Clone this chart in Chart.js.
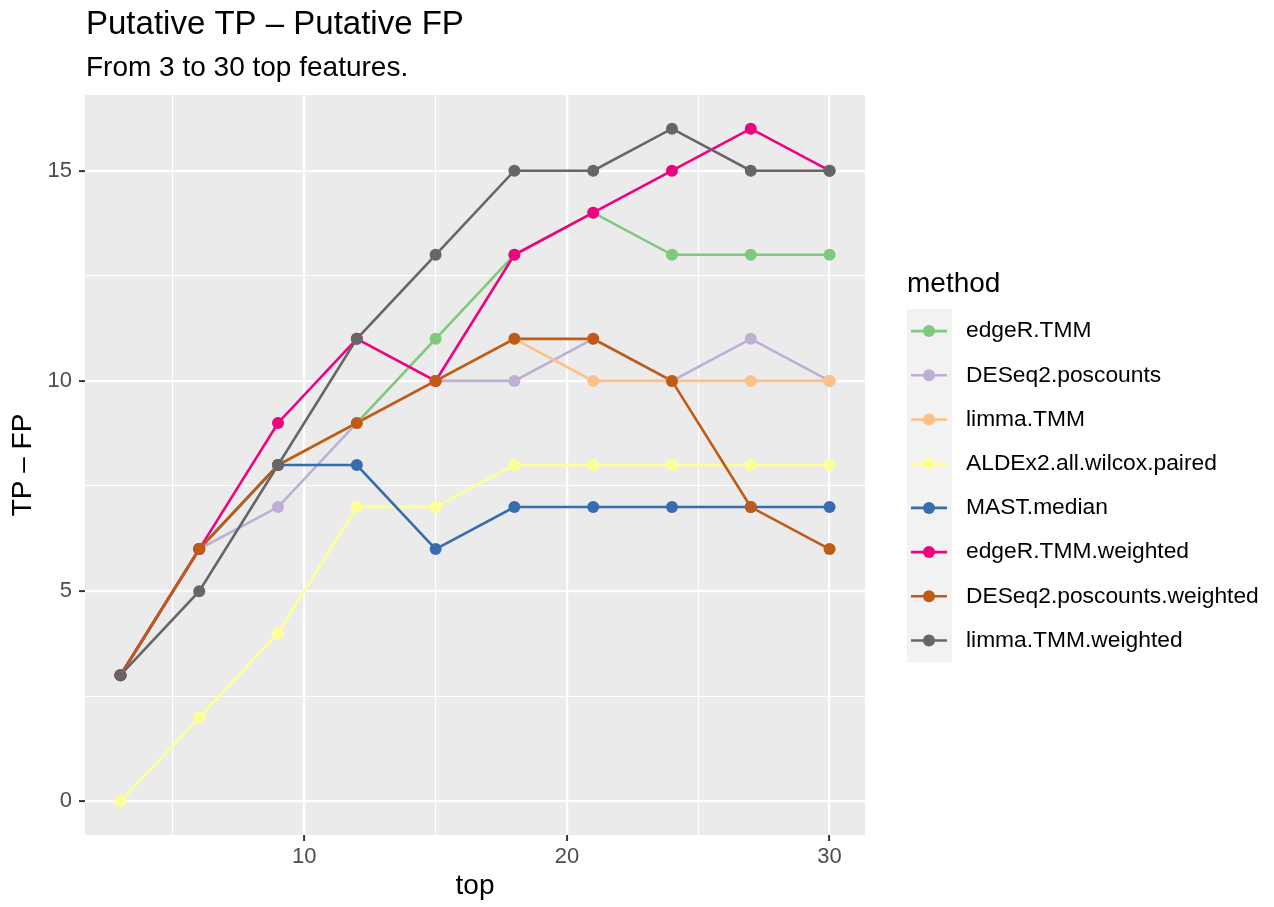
<!DOCTYPE html>
<html>
<head>
<meta charset="utf-8">
<script src="https://cdn.jsdelivr.net/npm/chart.js@4/dist/chart.umd.min.js"></script>
<style>
  html, body { margin: 0; padding: 0; background: #ffffff; }
  #wrap { width: 1274px; height: 907px; }
</style>
</head>
<body>
<div id="wrap"><canvas id="c" width="1274" height="907"></canvas></div>
<script>
// Number of top-ranked features considered
const topValues = [3, 6, 9, 12, 15, 18, 21, 24, 27, 30];

// Putative TP minus putative FP for each method
const edgeRTMM              = [3, 6, 8, 9, 11, 13, 14, 13, 13, 13];
const deseq2Poscounts       = [3, 6, 7, 9, 10, 10, 11, 10, 11, 10];
const limmaTMM              = [3, 6, 8, 9, 10, 11, 10, 10, 10, 10];
const aldex2WilcoxPaired    = [0, 2, 4, 7, 7, 8, 8, 8, 8, 8];
const mastMedian            = [3, 6, 8, 8, 6, 7, 7, 7, 7, 7];
const edgeRTMMWeighted      = [3, 6, 9, 11, 10, 13, 14, 15, 16, 15];
const deseq2PoscountsWeighted = [3, 6, 8, 9, 10, 11, 11, 10, 7, 6];
const limmaTMMWeighted      = [3, 5, 8, 11, 13, 15, 15, 16, 15, 15];

const methodNames = [
  'edgeR.TMM', 'DESeq2.poscounts', 'limma.TMM', 'ALDEx2.all.wilcox.paired',
  'MAST.median', 'edgeR.TMM.weighted', 'DESeq2.poscounts.weighted', 'limma.TMM.weighted'
];
const methodValues = [
  edgeRTMM, deseq2Poscounts, limmaTMM, aldex2WilcoxPaired,
  mastMedian, edgeRTMMWeighted, deseq2PoscountsWeighted, limmaTMMWeighted
];
const methodColors = [
  '#7FC97F', '#BEAED4', '#FDC086', '#FFFF99',
  '#386CB0', '#F0027F', '#BF5B17', '#666666'
];

// Axis tick positions (major ones are labelled, minor ones only get a grid line)
const xTicks = [5, 10, 15, 20, 25, 30];
const xTickLabels = ['', '10', '', '20', '', '30'];
const yTicks = [0, 2.5, 5, 7.5, 10, 12.5, 15];
const yTickLabels = ['0', '', '5', '', '10', '', '15'];

const FONT = '"Liberation Sans", Arial, Helvetica, sans-serif';
const LINE_W = 2.6;
const POINT_R = 6;

// Lines first (all series), then points on top, later series above earlier ones
const n = methodNames.length;
const datasets = [];
methodNames.forEach((name, i) => {
  datasets.push({
    label: name,
    data: topValues.map((t, k) => ({ x: t, y: methodValues[i][k] })),
    borderColor: methodColors[i],
    backgroundColor: methodColors[i],
    borderWidth: LINE_W,
    pointRadius: 0,
    pointHoverRadius: 0,
    tension: 0,
    fill: false,
    order: 100 + (n - i)
  });
});
methodNames.forEach((name, i) => {
  datasets.push({
    label: name + ' points',
    data: topValues.map((t, k) => ({ x: t, y: methodValues[i][k] })),
    borderColor: methodColors[i],
    backgroundColor: methodColors[i],
    showLine: false,
    pointRadius: POINT_R,
    pointBorderWidth: 0,
    pointHoverRadius: POINT_R,
    order: (n - i)
  });
});

const PANEL = { left: 85, top: 95, right: 865, bottom: 835 };

const decorations = {
  id: 'decorations',
  beforeDraw(chart) {
    const { ctx, chartArea } = chart;
    ctx.save();
    ctx.fillStyle = '#EBEBEB';
    ctx.fillRect(chartArea.left, chartArea.top, chartArea.right - chartArea.left, chartArea.bottom - chartArea.top);
    ctx.restore();
  },
  afterDraw(chart) {
    const { ctx, chartArea } = chart;
    ctx.save();
    // Title and subtitle
    ctx.fillStyle = '#000000';
    ctx.textAlign = 'left';
    ctx.textBaseline = 'alphabetic';
    ctx.font = '33px ' + FONT;
    ctx.fillText('Putative TP \u2013 Putative FP', 86, 34);
    ctx.font = '28px ' + FONT;
    ctx.fillText('From 3 to 30 top features.', 86, 76);

    // Axis titles
    ctx.font = '28px ' + FONT;
    ctx.textAlign = 'center';
    ctx.textBaseline = 'middle';
    ctx.fillText('top', (chartArea.left + chartArea.right) / 2, 886);
    ctx.save();
    ctx.translate(23, (chartArea.top + chartArea.bottom) / 2);
    ctx.rotate(-Math.PI / 2);
    ctx.fillText('TP \u2013 FP', 0, 0);
    ctx.restore();

    // Legend
    const keyLeft = 907, keySize = 44.2, keyTop = 309;
    ctx.textAlign = 'left';
    ctx.textBaseline = 'alphabetic';
    ctx.font = '28px ' + FONT;
    ctx.fillText('method', 907, 292);
    ctx.fillStyle = '#F2F2F2';
    ctx.fillRect(keyLeft, keyTop, 45, keySize * n);
    ctx.font = '22.8px ' + FONT;
    methodNames.forEach((name, i) => {
      const cy = keyTop + keySize * i + keySize / 2;
      ctx.strokeStyle = methodColors[i];
      ctx.lineWidth = LINE_W;
      ctx.beginPath();
      ctx.moveTo(911, cy);
      ctx.lineTo(947, cy);
      ctx.stroke();
      ctx.fillStyle = methodColors[i];
      ctx.beginPath();
      ctx.arc(929, cy, POINT_R, 0, Math.PI * 2);
      ctx.fill();
      ctx.fillStyle = '#000000';
      ctx.textBaseline = 'middle';
      ctx.fillText(name, 966, cy);
    });
    ctx.restore();
  }
};

new Chart(document.getElementById('c'), {
  type: 'line',
  data: { datasets },
  options: {
    responsive: false,
    animation: false,
    events: [],
    layout: { padding: { left: 0, top: PANEL.top, right: 1274 - PANEL.right, bottom: 0 } },
    plugins: {
      legend: { display: false },
      title: { display: false },
      tooltip: { enabled: false }
    },
    scales: {
      x: {
        type: 'linear',
        min: 1.65,
        max: 31.35,
        afterBuildTicks: s => { s.ticks = xTicks.map(v => ({ value: v })); },
        afterFit: s => { s.height = 907 - PANEL.bottom; },
        border: { display: false },
        grid: {
          color: '#FFFFFF',
          lineWidth: c => (c.tick && xTickLabels[xTicks.indexOf(c.tick.value)] !== '') ? 2.2 : 1.1,
          tickLength: 6,
          tickWidth: 2,
          tickColor: c => (c.tick && xTickLabels[xTicks.indexOf(c.tick.value)] !== '') ? '#333333' : 'rgba(0,0,0,0)'
        },
        ticks: {
          autoSkip: false,
          maxRotation: 0,
          padding: 3,
          color: '#4D4D4D',
          font: { family: FONT, size: 22 },
          callback: v => { const k = xTicks.indexOf(v); return k >= 0 ? xTickLabels[k] : ''; }
        }
      },
      y: {
        type: 'linear',
        min: -0.8,
        max: 16.8,
        afterBuildTicks: s => { s.ticks = yTicks.map(v => ({ value: v })); },
        afterFit: s => { s.width = PANEL.left; },
        border: { display: false },
        grid: {
          color: '#FFFFFF',
          lineWidth: c => (c.tick && yTickLabels[yTicks.indexOf(c.tick.value)] !== '') ? 2.2 : 1.1,
          tickLength: 6,
          tickWidth: 2,
          tickColor: c => (c.tick && yTickLabels[yTicks.indexOf(c.tick.value)] !== '') ? '#333333' : 'rgba(0,0,0,0)'
        },
        ticks: {
          autoSkip: false,
          padding: 7,
          color: '#4D4D4D',
          font: { family: FONT, size: 22 },
          callback: v => { const k = yTicks.indexOf(v); return k >= 0 ? yTickLabels[k] : ''; }
        }
      }
    }
  },
  plugins: [decorations]
});
</script>
</body>
</html>
